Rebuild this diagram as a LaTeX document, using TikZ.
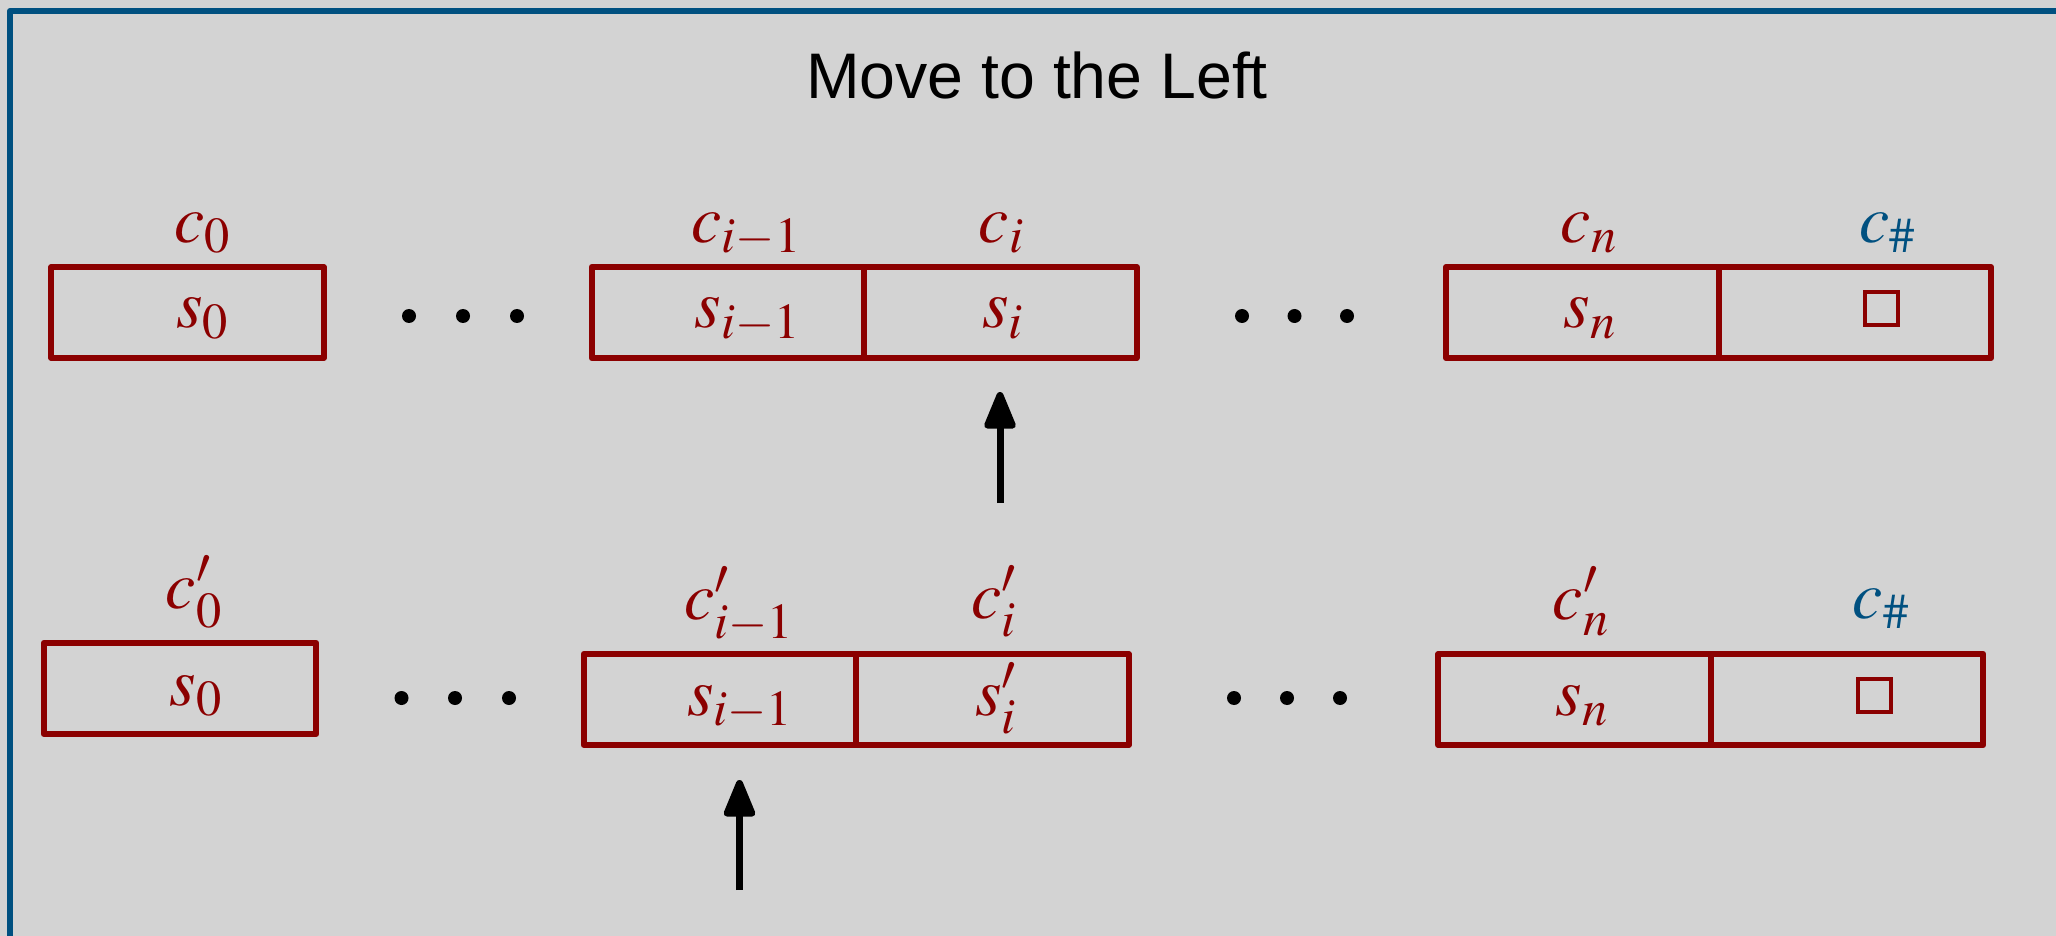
\documentclass[tikz,border=0pt]{standalone}
\usepackage{mathptmx}
\usepackage[no-math]{fontspec}
\newfontfamily\titlefont{Liberation Sans}
\usetikzlibrary{arrows.meta}
\definecolor{bgc}{RGB}{211,211,211}
\definecolor{cellc}{RGB}{139,0,0}
\definecolor{framec}{RGB}{0,80,128}
\begin{document}
\begin{tikzpicture}[x=0.5pt,y=-0.5pt,
  cell/.style={draw=cellc, line width=3pt, line join=round, minimum width=136.25pt, minimum height=45.5pt, inner sep=0pt, outer sep=0pt},
  sym/.style={text=cellc, anchor=base, inner sep=0pt, font=\fontsize{34}{40}\selectfont},
  blank/.style={draw=cellc, line width=2pt, minimum size=16.5pt, inner sep=0pt, outer sep=0pt},
  dotn/.style={circle, fill=black, minimum size=7pt, inner sep=0pt},
  ptr/.style={line width=3.5pt, -{Triangle[round,length=21.5pt,width=16.5pt]}},
]
\useasboundingbox (0,0) rectangle (2056,936);
\fill[bgc] (0,0) rectangle (2056,936);
\clip (0,0) rectangle (2056,936);
\draw[framec, line width=3pt, line join=round] (10,980) -- (10,11) -- (2100,11);

\node[anchor=base, inner sep=0pt, font=\titlefont\fontsize{32.2}{40}\selectfont] (title) at (1037,98.5) {Move to the Left};

% top row
\node[cell] (t0) at (187.5,312.5) {};
\node[cell] (ti1) at (727.8,312.5) {};
\node[cell] (ti) at (1000.3,312.5) {};
\node[cell] (tn) at (1582.3,312.5) {};
\node[cell] (th) at (1854.8,312.5) {};

\node[sym] (ts0) at (202.5,328) {$s_0$};
\node[sym] (tc0) at (202.5,242.5) {$c_0$};
\node[sym] (tsi1) at (747.5,328) {$s_{i-1}$};
\node[sym] (tci1) at (746.5,242.5) {$c_{i-1}$};
\node[sym] (tsi) at (1003,328) {$s_i$};
\node[sym] (tci) at (1001.5,242.5) {$c_i$};
\node[sym] (tsn) at (1590,328) {$s_n$};
\node[sym] (tcn) at (1589,242.5) {$c_n$};
\node[blank] (tb) at (1881,308.5) {};
\node[sym, text=framec] (tch) at (1887.5,242.5) {$c_\#$};

\node[dotn] (td1) at (409,316) {};
\node[dotn] (td2) at (463,316) {};
\node[dotn] (td3) at (517,316) {};
\node[dotn] (td4) at (1242,316) {};
\node[dotn] (td5) at (1294.5,316) {};
\node[dotn] (td6) at (1347,316) {};

% bottom row
\node[cell] (b0) at (180,688.5) {};
\node[cell] (bi1) at (720,699.5) {};
\node[cell] (bi) at (992.5,699.5) {};
\node[cell] (bn) at (1574.7,699.5) {};
\node[cell] (bh) at (1847.2,699.5) {};

\node[sym] (bs0) at (196,705) {$s_0$};
\node[sym] (bc0) at (194,608) {$c'_0$};
\node[sym] (bsi1) at (740,715) {$s_{i-1}$};
\node[sym] (bci1) at (739,619) {$c'_{i-1}$};
\node[sym] (bsi) at (996,715) {$s'_i$};
\node[sym] (bci) at (994,618) {$c'_i$};
\node[sym] (bsn) at (1582,715) {$s_n$};
\node[sym] (bcn) at (1581,619) {$c'_n$};
\node[blank] (bb) at (1874,695.5) {};
\node[sym, text=framec] (bch) at (1881,618) {$c_\#$};

\node[dotn] (bd1) at (401.5,698) {};
\node[dotn] (bd2) at (455,698) {};
\node[dotn] (bd3) at (509,698) {};
\node[dotn] (bd4) at (1234,698) {};
\node[dotn] (bd5) at (1287,698) {};
\node[dotn] (bd6) at (1340,698) {};

% head pointers
\coordinate (p1tail) at (1000,503);
\coordinate (p1tip) at (1000,392);
\coordinate (p2tail) at (739.5,890);
\coordinate (p2tip) at (739.5,780);
\draw[ptr] (p1tail) -- (p1tip);
\draw[ptr] (p2tail) -- (p2tip);
\end{tikzpicture}
\end{document}
